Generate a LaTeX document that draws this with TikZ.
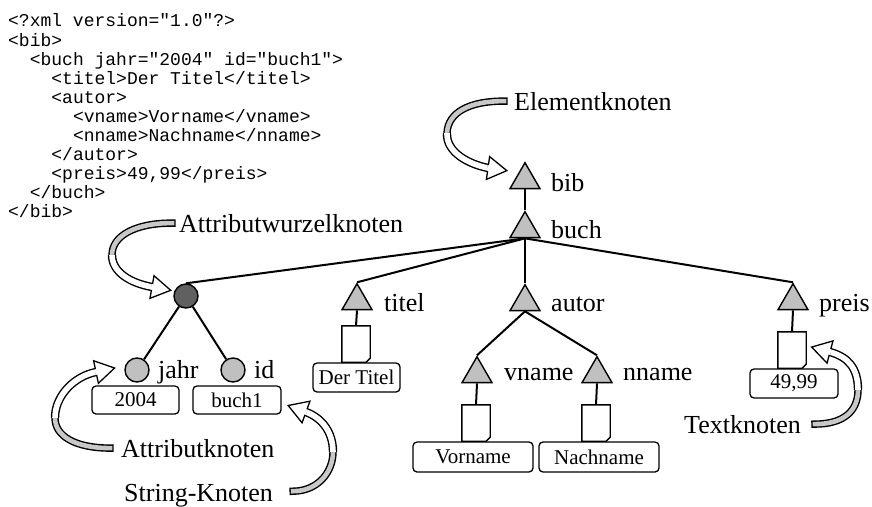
\documentclass[tikz,border=0pt]{standalone}
\usepackage{fontspec}
\setmainfont{Liberation Serif}
\setmonofont{Liberation Mono}
\usepackage{tikz}
\usetikzlibrary{shapes.geometric, positioning, calc}
\definecolor{elemfill}{HTML}{C0C0C0}
\definecolor{rootfill}{HTML}{606060}
\definecolor{bandgray}{HTML}{C8C8C8}
\tikzset{
  elem/.style={regular polygon, regular polygon sides=3, minimum size=34.6pt, inner sep=0pt, draw=black,
    line width=1.4pt, fill=elemfill},
  attr/.style={circle, minimum size=24pt, inner sep=0pt, draw=black, line width=1.4pt, fill=elemfill},
  lbl/.style={font=\fontsize{26}{28}\selectfont, inner sep=1pt, anchor=base west},
  strbox/.style={draw=black, line width=1.3pt, rounded corners=4pt, fill=white, minimum height=29pt,
    inner sep=0pt, font=\fontsize{21}{24}\selectfont},
  doc/.style={minimum width=28pt, minimum height=36pt, inner sep=0pt},
  docline/.style={draw=black, line width=1.4pt, fill=white, line join=miter},
  edge/.style={draw=black, line width=2pt},
  code/.style={font=\ttfamily\fontsize{18}{19}\selectfont, inner sep=0pt, anchor=base west},
  bandback/.style={draw=bandgray, line width=4.6pt, line cap=rect,
    preaction={draw=black, line width=7.4pt, line cap=rect}},
  bandfront/.style={draw=white, line width=5.6pt, preaction={draw=black, line width=8.4pt}},
  headtip/.style={draw=black, line width=1.3pt, fill=white, line join=miter},
}
% arrow head of a ribbon callout: #1 base point, #2 direction
\newcommand{\bandhead}[2]{%
  \draw[headtip] ([shift={(#2+90:11.5)}]#1) -- ([shift={(#2:19)}]#1) -- ([shift={(#2-90:11.5)}]#1) -- cycle;
  \draw[white, line width=5.6pt] ([shift={(#2+180:0.8)}]#1) -- ([shift={(#2:1.2)}]#1);
}
\begin{document}
\begin{tikzpicture}[x=1pt, y=-1pt]
  \useasboundingbox (0,0) rectangle (872,506);
  % ---- xml source
  \foreach \t [count=\i from 0] in {{<?xml version="1.0"?>}, {<bib>},
      {\phantom{xx}<buch jahr="2004" id="buch1">}, {\phantom{xxxx}<titel>Der Titel</titel>},
      {\phantom{xxxx}<autor>}, {\phantom{xxxxxx}<vname>Vorname</vname>},
      {\phantom{xxxxxx}<nname>Nachname</nname>}, {\phantom{xxxx}</autor>},
      {\phantom{xxxx}<preis>49,99</preis>}, {\phantom{xx}</buch>}, {</bib>}}
    \node[code] (src\i) at (8,{27+19*\i}) {\t};
  % ---- element nodes
  \node[elem] (bib) at (525,180) {};
  \node[elem] (buch) at (525,229) {};
  \node[elem] (titel) at (357,301) {};
  \node[elem] (autor) at (525,302) {};
  \node[elem] (preis) at (793,301) {};
  \node[elem] (vname) at (477,374) {};
  \node[elem] (nname) at (597,374) {};
  % ---- attributes
  \node[attr, fill=rootfill] (aroot) at (186,296) {};
  \node[attr] (ajahr) at (137,370) {};
  \node[attr] (aid) at (233,370) {};
  % ---- text nodes
  \node[doc] (dtitel) at (356,344) {};
  \node[doc] (dvname) at (476,423) {};
  \node[doc] (dnname) at (596,423) {};
  \node[doc] (dpreis) at (792,350) {};
  % ---- edges
  \draw[edge] (bib.side 2) -- (buch.corner 1);
  \draw[edge] (buch.side 2) -- (aroot.north);
  \foreach \c in {titel, autor, preis}
    \draw[edge] (buch.side 2) -- (\c.corner 1);
  \draw[edge] (aroot) -- (ajahr);
  \draw[edge] (aroot) -- (aid);
  \draw[edge] (autor.side 2) -- (vname.corner 1);
  \draw[edge] (autor.side 2) -- (nname.corner 1);
  \foreach \e/\d in {titel/dtitel, vname/dvname, nname/dnname, preis/dpreis}
    \draw[edge] (\e.side 2) -- (\d.north);
  \foreach \d in {dtitel, dvname, dnname, dpreis}
    \draw[docline] (\d.south west) -- (\d.north west) -- (\d.north east) -- ([yshift=4pt]\d.south east)
      -- ([xshift=-4pt]\d.south east) -- cycle;
  % ---- string nodes
  \node[strbox, minimum width=87pt] (stitel) at (356.5,377.5) {Der Titel};
  \node[strbox, minimum width=120pt, minimum height=30pt] (svname) at (473,457) {Vorname};
  \node[strbox, minimum width=120pt, minimum height=30pt] (snname) at (599,457) {Nachname};
  \node[strbox, minimum width=88pt] (spreis) at (794,383.5) {49,99};
  \node[strbox, minimum width=87pt, minimum height=28pt] (sjahr) at (135.5,400) {2004};
  \node[strbox, minimum width=88pt, minimum height=28pt] (sid) at (237,400) {buch1};
  % ---- names
  \node[lbl] (lbib) at (550,191) {bib};
  \node[lbl] (lbuch) at (550,238) {buch};
  \node[lbl] (ltitel) at (383,311) {titel};
  \node[lbl] (lautor) at (550,311) {autor};
  \node[lbl] (lpreis) at (818,311) {preis};
  \node[lbl] (lvname) at (503,380) {vname};
  \node[lbl] (lnname) at (622,380) {nname};
  \node[lbl] (ljahr) at (157,378) {jahr};
  \node[lbl] (lid) at (253,378) {id};
  % ---- callouts
  \node[lbl] (cElem) at (513,110) {Elementknoten};
  \node[lbl] (cRoot) at (178,232) {Attributwurzelknoten};
  \node[lbl] (cAttr) at (120,457) {Attributknoten};
  \node[lbl] (cString) at (123,501) {String-Knoten};
  \node[lbl] (cText) at (683,433) {Textknoten};
  \coordinate (eBase) at (488,168);
  \coordinate (rBase) at (152,287);
  \coordinate (aBase) at (96,372);
  \coordinate (sBase) at (306,412);
  \coordinate (tBase) at (830,352);
  \draw[bandback] ([xshift=-9pt]cElem.west) .. controls (470,101) and (448,112) .. (447,133);
  \draw[bandfront] (447,133) .. controls (446,152) and (468,164) .. (eBase);
  \bandhead{eBase}{8}
  \draw[bandback] ([xshift=-6pt]cRoot.west) .. controls (135,223) and (112,236) .. (112,255);
  \draw[bandfront] (112,255) .. controls (112,272) and (130,283) .. (rBase);
  \bandhead{rBase}{10}
  \draw[bandback] ([xshift=-10pt]cAttr.west) .. controls (75,448) and (55,436) .. (55,418);
  \draw[bandfront] (55,418) .. controls (55,395) and (75,376) .. (aBase);
  \bandhead{aBase}{-12}
  \draw[bandback] ([shift={(19,-4)}]cString.east) .. controls (318,491) and (333,472) .. (333,452);
  \draw[bandfront] (333,452) .. controls (333,432) and (322,418) .. (sBase);
  \bandhead{sBase}{200}
  \draw[bandback] ([xshift=13pt]cText.east) .. controls (845,424) and (858,410) .. (858,390);
  \draw[bandfront] (858,390) .. controls (858,368) and (848,357) .. (tBase);
  \bandhead{tBase}{195}
\end{tikzpicture}
\end{document}
